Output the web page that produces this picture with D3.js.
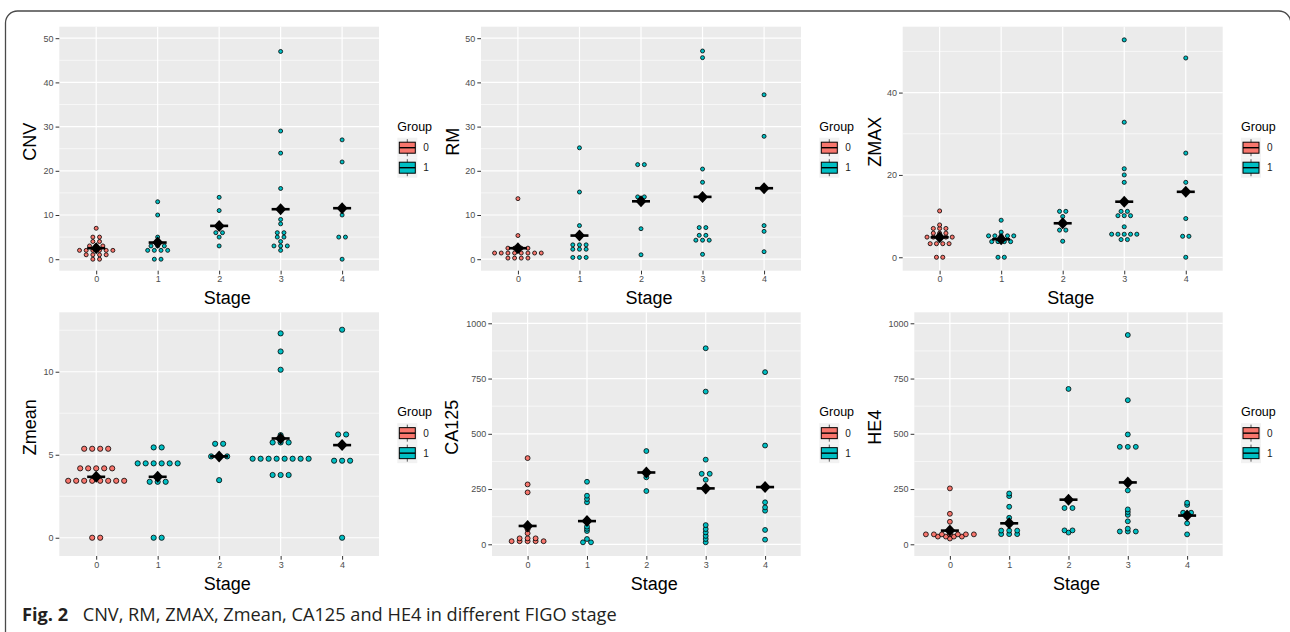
<!DOCTYPE html>
<html>
<head>
<meta charset="utf-8">
<script src="https://cdn.jsdelivr.net/npm/d3@7"></script>
<style>
  body { margin: 0; background: #fff; }
  svg { display: block; }
  .chart text { font-family: "Liberation Sans", Arial, sans-serif; }
  .caption { font-family: "Open Sans", "Noto Sans", sans-serif; font-size: 18.2px; fill: #231f20; }
</style>
</head>
<body>
<svg id="fig" width="1290" height="632"></svg>
<script>
// stages on the x axis, group of each stage, group fill colours
const stages = ["0", "1", "2", "3", "4"];
const stageGroup = ["0", "1", "1", "1", "1"];
const groupLabels = ["0", "1"];
const groupColors = ["#F8766D", "#00BFC4"];

// values, one list per stage
const cnvValues = [
  [7, 5, 5, 4, 4, 3, 3, 3, 2, 2, 2, 2, 2, 2, 1, 1, 1, 1, 0, 0],
  [13, 10, 5, 3, 3, 3, 2, 2, 2, 2, 0, 0],
  [14, 11, 6, 6, 5, 3],
  [47, 29, 24, 16, 9, 8, 6, 6, 5, 5, 4, 3, 3, 3, 2],
  [27, 22, 10, 5, 5, 0]
];
const cnvMeans = [2.49, 3.77, 7.54, 11.31, 11.54];
const cnvTicks = [0, 10, 20, 30, 40, 50];

const rmValues = [
  [13.7, 5.35, 2.5, 2.5, 2.5, 2.5, 1.4, 1.4, 1.4, 1.4, 1.4, 1.4, 1.4, 1.4, 0.25, 0.25, 0.25, 0.25],
  [25.2, 15.2, 7.6, 3.25, 3.25, 3.25, 2.25, 2.25, 2.25, 0.4, 0.4, 0.4],
  [21.4, 21.4, 14.1, 14.1, 6.9, 1.0],
  [47.1, 45.6, 20.4, 17.4, 13.6, 7.15, 7.15, 5.4, 5.4, 4.3, 4.3, 4.3, 1.1],
  [37.2, 27.8, 7.6, 6.3, 1.7]
];
const rmMeans = [2.49, 5.35, 13.1, 14.1, 16.06];
const rmTicks = [0, 10, 20, 30, 40, 50];

const zmaxValues = [
  [11.25, 7.85, 7.0, 7.0, 7.0, 5.85, 5.85, 5.85, 4.9, 4.9, 4.9, 4.9, 4.9, 3.3, 3.3, 3.3, 3.3, 0, 0],
  [9.0, 6.1, 5.2, 5.2, 5.2, 5.2, 5.2, 3.8, 3.8, 3.8, 3.8, 0, 0],
  [11.15, 11.15, 9.9, 6.6, 6.6, 3.9],
  [52.8, 32.8, 21.5, 20.0, 18.2, 11.15, 11.15, 10.1, 10.1, 10.1, 7.4, 5.6, 5.6, 5.6, 5.6, 5.6, 4.3, 4.3],
  [48.4, 25.3, 18.2, 9.4, 5.1, 5.1, 0]
];
const zmaxMeans = [4.86, 4.37, 8.26, 13.5, 15.9];
const zmaxTicks = [0, 20, 40];

const zmeanValues = [
  [5.36, 5.36, 5.36, 5.36, 4.18, 4.18, 4.18, 4.18, 4.18, 3.43, 3.43, 3.43, 3.43, 3.43, 3.43, 3.43, 3.43, 0, 0],
  [5.44, 5.44, 4.48, 4.48, 4.48, 4.48, 4.48, 4.48, 3.37, 3.37, 3.37, 0, 0],
  [5.66, 5.66, 4.9, 4.9, 4.9, 3.47],
  [12.31, 11.22, 10.12, 6.18, 5.74, 5.74, 5.74, 4.76, 4.76, 4.76, 4.76, 4.76, 4.76, 4.76, 4.76, 3.78, 3.78, 3.78],
  [12.53, 6.22, 6.22, 4.64, 4.64, 4.64, 0]
];
const zmeanMeans = [3.67, 3.67, 4.9, 5.98, 5.58];
const zmeanTicks = [0, 5, 10];

const ca125Values = [
  [390, 271, 235, 68, 50, 27, 27, 27, 14, 14, 14, 14, 14],
  [283, 220, 205, 190, 80, 70, 60, 24, 9, 9],
  [422, 303, 241],
  [887, 691, 383, 319, 319, 292, 87, 69, 54, 38, 24, 9],
  [779, 447, 190, 167, 152, 65, 21]
];
const ca125Means = [83, 105, 325, 253, 259];
const ca125Ticks = [0, 250, 500, 750, 1000];

const he4Values = [
  [253, 138, 102, 45, 45, 45, 45, 45, 45, 45, 35, 35, 35, 35, 26],
  [230, 218, 170, 120, 62, 62, 62, 46, 46, 46],
  [703, 164, 164, 63, 63, 53],
  [947, 652, 497, 441, 441, 441, 244, 158, 146, 133, 104, 71, 58, 58, 58],
  [188, 178, 143, 143, 95, 45]
];
const he4Means = [62, 95, 202, 280, 130];
const he4Ticks = [0, 250, 500, 750, 1000];

// panel placement
const rows = [[26.7, 270.7], [312.3, 556]];
const panels = [
  { title: "CNV", values: cnvValues, means: cnvMeans, ticks: cnvTicks, row: 0, x0: 59.3, x1: 379, dom: [-2.6, 52.6], titleX: 30, legendX: 397.3, bw: 0.5, r: 2.0, gap: 6.67 },
  { title: "RM", values: rmValues, means: rmMeans, ticks: rmTicks, row: 0, x0: 481, x1: 801, dom: [-2.6, 52.6], titleX: 453, legendX: 819.3, bw: 0.5, r: 2.0, gap: 6.67 },
  { title: "ZMAX", values: zmaxValues, means: zmaxMeans, ticks: zmaxTicks, row: 0, x0: 902.7, x1: 1222.7, dom: [-3.26, 56.0], titleX: 875, legendX: 1241, bw: 0.5, r: 2.05, gap: 6.3 },
  { title: "Zmean", values: zmeanValues, means: zmeanMeans, ticks: zmeanTicks, row: 1, x0: 59.3, x1: 379, dom: [-1.1, 13.58], titleX: 30, legendX: 397.3, bw: 0.2, r: 2.6, gap: 8 },
  { title: "CA125", values: ca125Values, means: ca125Means, ticks: ca125Ticks, row: 1, x0: 492, x1: 800.7, dom: [-52.9, 1049.8], titleX: 452, legendX: 819.3, bw: 8, r: 2.45, gap: 8 },
  { title: "HE4", values: he4Values, means: he4Means, ticks: he4Ticks, row: 1, x0: 914.3, x1: 1222.7, dom: [-52.9, 1049.8], titleX: 875, legendX: 1241, bw: 8, r: 2.45, gap: 8 }
];

const svg = d3.select("#fig");
svg.append("rect").attr("width", 1290).attr("height", 632).attr("fill", "#fff");

// frame round the figure (right side sits just past the edge)
svg.append("path")
  .attr("d", "M5.5,640 L5.5,23 A12,12 0 0 1 17.5,11 L1278.8,11 A12,12 0 0 1 1290.8,23 L1290.8,640")
  .attr("fill", "none").attr("stroke", "#4a4a4a").attr("stroke-width", 1.3);

// ggplot dotdensity binning
function dotBins(vals, bw) {
  const s = vals.slice().sort((a, b) => a - b);
  const bins = [];
  let cur = null;
  s.forEach(v => {
    if (!cur || v >= cur.start + bw) {
      cur = { start: v, vals: [] };
      bins.push(cur);
    }
    cur.vals.push(v);
  });
  bins.forEach(b => b.center = (b.vals[0] + b.vals[b.vals.length - 1]) / 2);
  return bins;
}

function drawPanel(p) {
  const [top, bottom] = rows[p.row];
  const g = svg.append("g").attr("class", "chart");

  const x = d3.scalePoint().domain(stages).range([p.x0, p.x1]).padding(0.6);
  const y = d3.scaleLinear().domain(p.dom).range([bottom, top]);
  const color = d3.scaleOrdinal().domain(groupLabels).range(groupColors);

  g.append("rect")
    .attr("x", p.x0).attr("y", top)
    .attr("width", p.x1 - p.x0).attr("height", bottom - top)
    .attr("fill", "#EBEBEB");

  const step = p.ticks[1] - p.ticks[0];
  const minor = d3.range(p.ticks[0] - step / 2, p.dom[1], step).filter(v => v > p.dom[0]);

  g.selectAll(".minor").data(minor).enter().append("line")
    .attr("x1", p.x0).attr("x2", p.x1)
    .attr("y1", d => y(d)).attr("y2", d => y(d))
    .attr("stroke", "#fff").attr("stroke-width", 0.6);

  g.selectAll(".hmajor").data(p.ticks).enter().append("line")
    .attr("x1", p.x0).attr("x2", p.x1)
    .attr("y1", d => y(d)).attr("y2", d => y(d))
    .attr("stroke", "#fff").attr("stroke-width", 1.2);

  g.selectAll(".vmajor").data(stages).enter().append("line")
    .attr("x1", d => x(d)).attr("x2", d => x(d))
    .attr("y1", top).attr("y2", bottom)
    .attr("stroke", "#fff").attr("stroke-width", 1.2);

  // dots
  const dots = [];
  p.values.forEach((vals, i) => {
    dotBins(vals, p.bw).forEach(b => {
      const k = b.vals.length;
      for (let j = 0; j < k; j++) {
        dots.push({ stage: stages[i], group: stageGroup[i], v: b.center, off: (j - (k - 1) / 2) * p.gap });
      }
    });
  });
  g.selectAll(".dot").data(dots).enter().append("circle")
    .attr("cx", d => x(d.stage) + d.off)
    .attr("cy", d => y(d.v))
    .attr("r", p.r)
    .attr("fill", d => color(d.group))
    .attr("stroke", "#000").attr("stroke-width", 0.8);

  // mean: bar + diamond
  const means = p.means.map((m, i) => ({ stage: stages[i], m: m }));
  g.selectAll(".bar").data(means).enter().append("rect")
    .attr("x", d => x(d.stage) - 9).attr("y", d => y(d.m) - 1.3)
    .attr("width", 18).attr("height", 2.6)
    .attr("fill", "#000");
  g.selectAll(".diamond").data(means).enter().append("path")
    .attr("d", d => {
      const cx = x(d.stage), cy = y(d.m);
      return `M${cx},${cy - 6} L${cx + 5.5},${cy} L${cx},${cy + 6} L${cx - 5.5},${cy} Z`;
    })
    .attr("fill", "#000");

  // y axis
  const yAxis = g.append("g").attr("transform", `translate(${p.x0},0)`)
    .call(d3.axisLeft(y).tickValues(p.ticks).tickFormat(d3.format("d")).tickSize(3.7).tickPadding(2));
  yAxis.select(".domain").remove();
  yAxis.selectAll(".tick line").attr("stroke", "#333");
  yAxis.selectAll(".tick text").attr("fill", "#4D4D4D").attr("font-size", 9);

  // x axis
  const xAxis = g.append("g").attr("transform", `translate(0,${bottom})`)
    .call(d3.axisBottom(x).tickSize(3.7).tickPadding(1.5));
  xAxis.select(".domain").remove();
  xAxis.selectAll(".tick line").attr("stroke", "#333");
  xAxis.selectAll(".tick text").attr("fill", "#4D4D4D").attr("font-size", 9);

  // axis titles
  g.append("text")
    .attr("x", (p.x0 + p.x1) / 2 + 8).attr("y", bottom + 27.6)
    .attr("text-anchor", "middle").attr("dominant-baseline", "central")
    .attr("font-size", 18).text("Stage");
  const cy = (top + bottom) / 2 - 7;
  g.append("text")
    .attr("transform", `translate(${p.titleX},${cy}) rotate(-90)`)
    .attr("text-anchor", "middle").attr("dominant-baseline", "central")
    .attr("font-size", 18).text(p.title);

  // legend
  const pc = (top + bottom) / 2;
  const lx = p.legendX;
  g.append("text")
    .attr("x", lx).attr("y", pc - 22)
    .attr("dominant-baseline", "central")
    .attr("font-size", 12.5).text("Group");
  groupLabels.forEach((lab, i) => {
    const kc = pc - 1 + i * 20;
    g.append("rect").attr("x", lx).attr("y", kc - 10).attr("width", 20).attr("height", 20).attr("fill", "#F2F2F2");
    g.append("line").attr("x1", lx + 10).attr("x2", lx + 10).attr("y1", kc - 8.5).attr("y2", kc + 8.5)
      .attr("stroke", "#333").attr("stroke-width", 0.8);
    g.append("rect").attr("x", lx + 2).attr("y", kc - 5.5).attr("width", 16).attr("height", 11)
      .attr("fill", groupColors[i]).attr("stroke", "#000").attr("stroke-width", 1);
    g.append("line").attr("x1", lx + 2).attr("x2", lx + 18).attr("y1", kc).attr("y2", kc)
      .attr("stroke", "#000").attr("stroke-width", 1.4);
    g.append("text").attr("x", lx + 26).attr("y", kc)
      .attr("dominant-baseline", "central").attr("font-size", 10).attr("fill", "#1a1a1a")
      .text(lab);
  });
}

panels.forEach(drawPanel);

// caption
svg.append("text").attr("class", "caption")
  .attr("x", 22).attr("y", 621)
  .attr("font-weight", "bold").attr("fill", "#000")
  .text("Fig. 2");
svg.append("text").attr("class", "caption")
  .attr("x", 82.7).attr("y", 621)
  .text("CNV, RM, ZMAX, Zmean, CA125 and HE4 in different FIGO stage");
</script>
</body>
</html>
